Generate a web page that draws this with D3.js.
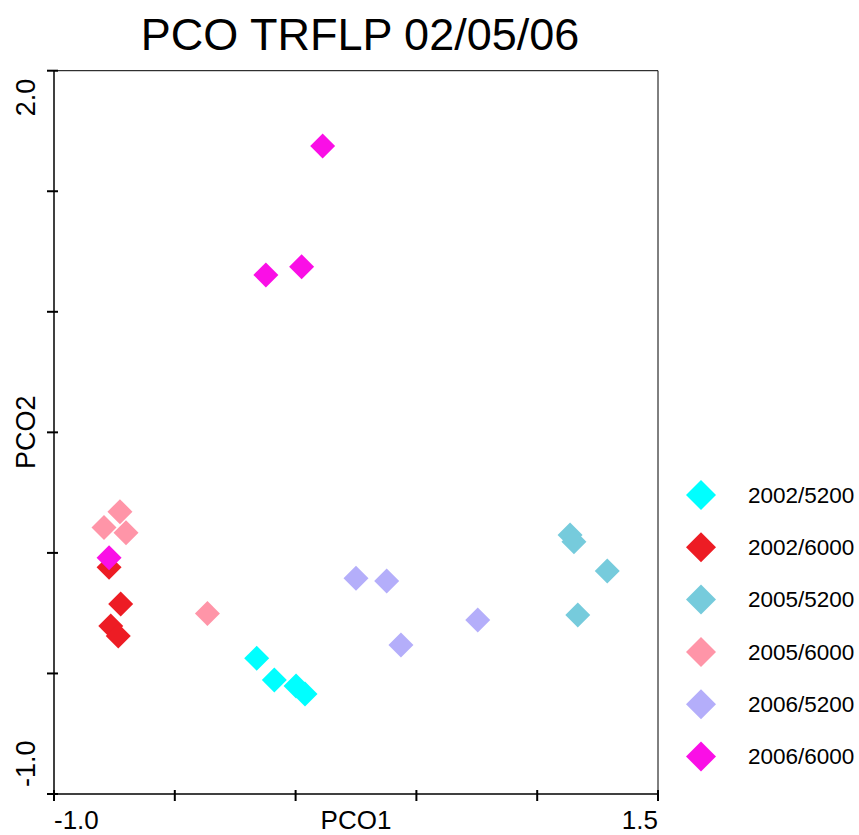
<!DOCTYPE html>
<html>
<head>
<meta charset="utf-8">
<script src="https://cdn.jsdelivr.net/npm/d3@7"></script>
<style>
  body { margin: 0; background: #fff; }
  text { font-family: "Liberation Sans", Arial, sans-serif; fill: #000; }
</style>
</head>
<body>
<div id="wrapper"></div>
<script>
// groups in legend order
const groups = ["2002/5200", "2002/6000", "2005/5200", "2005/6000", "2006/5200", "2006/6000"]
const colors = ["#00FFFF", "#ED1C24", "#76CBDC", "#FF95A8", "#B4AEFA", "#FA0FE6"]

// PCO1 / PCO2 values per group
const pco1_2002_5200 = [-0.161, -0.088, 0.002, 0.039]
const pco2_2002_5200 = [-0.437, -0.527, -0.552, -0.585]
const pco1_2002_6000 = [-0.772, -0.724, -0.765, -0.734]
const pco2_2002_6000 = [-0.060, -0.212, -0.303, -0.345]
const pco1_2005_5200 = [1.136, 1.152, 1.290, 1.168]
const pco2_2005_5200 = [0.074, 0.046, -0.075, -0.258]
const pco1_2005_6000 = [-0.727, -0.793, -0.702, -0.365]
const pco2_2005_6000 = [0.171, 0.105, 0.084, -0.251]
const pco1_2006_5200 = [0.250, 0.377, 0.436, 0.754]
const pco2_2006_5200 = [-0.105, -0.117, -0.382, -0.278]
const pco1_2006_6000 = [0.112, -0.123, 0.025, -0.772]
const pco2_2006_6000 = [1.688, 1.153, 1.187, -0.020]

const xTicks = [-1.0, -0.5, 0, 0.5, 1.0, 1.5]
const yTicks = [-1.0, -0.5, 0, 0.5, 1.0, 1.5, 2.0]
// only the end ticks are labelled
const xTickLabels = ["-1.0", "1.5"]
const yTickLabels = ["-1.0", "2.0"]

const seriesX = [pco1_2002_5200, pco1_2002_6000, pco1_2005_5200, pco1_2005_6000, pco1_2006_5200, pco1_2006_6000]
const seriesY = [pco2_2002_5200, pco2_2002_6000, pco2_2005_5200, pco2_2005_6000, pco2_2006_5200, pco2_2006_6000]

const dataset = []
groups.forEach((g, i) => {
    seriesX[i].forEach((x, j) => dataset.push({ group: g, x: x, y: seriesY[i][j] }))
})

let dimensions = {
    width: 859,
    height: 835,
    margin: { top: 70.7, right: 201, bottom: 41, left: 54 },
}
dimensions.boundedWidth = dimensions.width - dimensions.margin.left - dimensions.margin.right
dimensions.boundedHeight = dimensions.height - dimensions.margin.top - dimensions.margin.bottom

const svg = d3.select("#wrapper")
    .append("svg")
        .attr("width", dimensions.width)
        .attr("height", dimensions.height)

const bounds = svg.append("g")
    .attr("transform", `translate(${dimensions.margin.left},${dimensions.margin.top})`)

const xScale = d3.scaleLinear()
    .domain([-1, 1.5])
    .range([0, dimensions.boundedWidth])

const yScale = d3.scaleLinear()
    .domain([-1, 2])
    .range([dimensions.boundedHeight, 0])

const colorScale = d3.scaleOrdinal().domain(groups).range(colors)

// frame (top and right thin)
bounds.append("line")
    .attr("x1", 0).attr("x2", dimensions.boundedWidth)
    .attr("y1", 0).attr("y2", 0)
    .attr("stroke", "#000").attr("stroke-width", 1)
bounds.append("line")
    .attr("x1", dimensions.boundedWidth).attr("x2", dimensions.boundedWidth)
    .attr("y1", 0).attr("y2", dimensions.boundedHeight)
    .attr("stroke", "#000").attr("stroke-width", 1)

// x axis
const xAxis = bounds.append("g")
    .attr("transform", `translate(0,${dimensions.boundedHeight})`)
xAxis.append("line")
    .attr("x1", 0).attr("x2", dimensions.boundedWidth)
    .attr("stroke", "#000").attr("stroke-width", 1.5)
xAxis.selectAll(".tick")
    .data(xTicks)
    .join("line")
        .attr("x1", d => xScale(d)).attr("x2", d => xScale(d))
        .attr("y1", -4).attr("y2", 7)
        .attr("stroke", "#000").attr("stroke-width", 2)
xAxis.selectAll(".lbl")
    .data([xTicks[0], xTicks[xTicks.length - 1]])
    .join("text")
        .attr("x", d => xScale(d))
        .attr("y", 35)
        .attr("text-anchor", (d, i) => i == 0 ? "start" : "end")
        .style("font-size", "26px")
        .text((d, i) => xTickLabels[i])
xAxis.append("text")
    .attr("x", dimensions.boundedWidth / 2)
    .attr("y", 35)
    .attr("text-anchor", "middle")
    .style("font-size", "26px")
    .text("PCO1")

// y axis
const yAxis = bounds.append("g")
yAxis.append("line")
    .attr("y1", 0).attr("y2", dimensions.boundedHeight)
    .attr("stroke", "#000").attr("stroke-width", 1.5)
yAxis.selectAll(".tick")
    .data(yTicks)
    .join("line")
        .attr("y1", d => yScale(d)).attr("y2", d => yScale(d))
        .attr("x1", -7).attr("x2", 4)
        .attr("stroke", "#000").attr("stroke-width", 2)
yAxis.selectAll(".lbl")
    .data([yTicks[0], yTicks[yTicks.length - 1]])
    .join("text")
        .attr("transform", (d, i) => `translate(-19,${yScale(d) + (i == 0 ? -7 : 8)}) rotate(-90)`)
        .attr("text-anchor", (d, i) => i == 0 ? "start" : "end")
        .style("font-size", "27px")
        .text((d, i) => yTickLabels[i])
yAxis.append("text")
    .attr("transform", `translate(-19,${dimensions.boundedHeight / 2}) rotate(-90)`)
    .attr("text-anchor", "middle")
    .style("font-size", "27px")
    .text("PCO2")

// points - rotated squares
const diamond = d3.symbol().type(d3.symbolSquare).size(312)
bounds.selectAll(".pt")
    .data(dataset)
    .join("path")
        .attr("d", diamond)
        .attr("transform", d => `translate(${xScale(d.x)},${yScale(d.y)}) rotate(45)`)
        .attr("fill", d => colorScale(d.group))

// title
svg.append("text")
    .attr("x", 360)
    .attr("y", 50)
    .attr("text-anchor", "middle")
    .style("font-size", "45px")
    .text("PCO TRFLP 02/05/06")

// legend
const legendDiamond = d3.symbol().type(d3.symbolSquare).size(450)
const legend = svg.append("g")
    .attr("transform", "translate(701,495)")
const items = legend.selectAll("g")
    .data(groups)
    .join("g")
        .attr("transform", (d, i) => `translate(0,${i * 52.3})`)
items.append("path")
    .attr("d", legendDiamond)
    .attr("transform", "rotate(45)")
    .attr("fill", d => colorScale(d))
items.append("text")
    .attr("x", 47)
    .attr("dy", "0.35em")
    .style("font-size", "22.5px")
    .text(d => d)
</script>
</body>
</html>
